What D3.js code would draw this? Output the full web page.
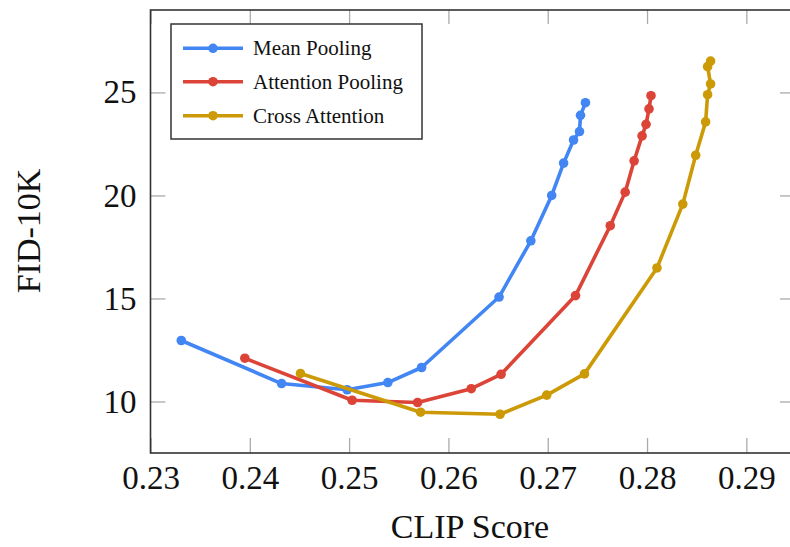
<!DOCTYPE html>
<html>
<head>
<meta charset="utf-8">
<script src="https://cdn.jsdelivr.net/npm/d3@7"></script>
<style>
  body { margin: 0; background: #fff; }
</style>
</head>
<body>
<div id="chart"></div>
<script>
// series values
var seriesNames = ['Mean Pooling', 'Attention Pooling', 'Cross Attention']
var seriesColors = ['#4286f4', '#db4437', '#cc9a06']

var meanClip = [0.2331, 0.2432, 0.2498, 0.2539, 0.2573, 0.2651, 0.2683, 0.2704, 0.2716, 0.2726, 0.2732, 0.2733, 0.2738]
var meanFid = [12.96, 10.87, 10.57, 10.92, 11.65, 15.07, 17.80, 20.00, 21.57, 22.69, 23.10, 23.89, 24.50]

var attnClip = [0.2395, 0.2503, 0.2569, 0.2623, 0.2653, 0.2728, 0.2763, 0.2778, 0.2787, 0.2795, 0.2799, 0.2802, 0.2804]
var attnFid = [12.10, 10.06, 9.95, 10.62, 11.32, 15.14, 18.53, 20.16, 21.68, 22.89, 23.45, 24.20, 24.84]

var crossClip = [0.2451, 0.2572, 0.2652, 0.2699, 0.2737, 0.2810, 0.2836, 0.2849, 0.2859, 0.2861, 0.2864, 0.2861, 0.2864]
var crossFid = [11.36, 9.48, 9.38, 10.31, 11.34, 16.48, 19.58, 21.95, 23.57, 24.89, 25.41, 26.25, 26.52]

var xTicks = [0.23, 0.24, 0.25, 0.26, 0.27, 0.28, 0.29]
var yTicks = [10, 15, 20, 25]

window.onload = function() {

  var w = 790, h = 547
  var left = 150.5, right = 795, top = 10, bottom = 453
  var font = '"Liberation Serif", "Times New Roman", serif'

  var svg = d3.select('#chart')
    .append('svg')
    .attr('width', w)
    .attr('height', h)

  var x = d3.scaleLinear().domain([0.23, 0.2949]).range([left, right])
  var y = d3.scaleLinear().domain([7.5, 29]).range([bottom, top])

  // ticks, all pointing inward
  svg.append('g')
    .attr('transform', 'translate(0,' + bottom + ')')
    .call(d3.axisBottom(x).tickValues(xTicks).tickSize(-15).tickPadding(13).tickFormat(d3.format('.2f')))
  svg.append('g')
    .attr('transform', 'translate(0,' + top + ')')
    .call(d3.axisTop(x).tickValues(xTicks).tickSize(-14).tickFormat(''))
  svg.append('g')
    .attr('transform', 'translate(' + left + ',0)')
    .call(d3.axisLeft(y).tickValues(yTicks).tickSize(-15).tickPadding(14))
  svg.append('g')
    .attr('transform', 'translate(' + right + ',0)')
    .call(d3.axisRight(y).tickValues(yTicks).tickSize(-15).tickFormat(''))

  svg.selectAll('.domain').remove()
  svg.selectAll('.tick line').attr('stroke', '#aaa').attr('stroke-width', 1.3)
  svg.selectAll('.tick text')
    .attr('font-family', font)
    .attr('font-size', 33)
    .attr('fill', '#111')

  // frame
  svg.append('rect')
    .attr('x', left)
    .attr('y', top)
    .attr('width', right - left)
    .attr('height', bottom - top)
    .attr('fill', 'none')
    .attr('stroke', '#333')
    .attr('stroke-width', 1.6)

  var series = [
    d3.zip(meanClip, meanFid),
    d3.zip(attnClip, attnFid),
    d3.zip(crossClip, crossFid)
  ]

  var line = d3.line()
    .x(function(d) { return x(d[0]) })
    .y(function(d) { return y(d[1]) })

  series.forEach(function(pts, i) {
    var g = svg.append('g')
    g.append('path')
      .attr('d', line(pts))
      .attr('fill', 'none')
      .attr('stroke', seriesColors[i])
      .attr('stroke-width', 3.6)
      .attr('stroke-linejoin', 'round')
    g.selectAll('circle')
      .data(pts)
      .enter().append('circle')
      .attr('cx', function(d) { return x(d[0]) })
      .attr('cy', function(d) { return y(d[1]) })
      .attr('r', 4.8)
      .attr('fill', seriesColors[i])
  })

  // axis titles
  svg.append('text')
    .attr('x', 470)
    .attr('y', 538)
    .attr('text-anchor', 'middle')
    .attr('font-family', font)
    .attr('font-size', 34)
    .attr('fill', '#111')
    .text('CLIP Score')

  svg.append('text')
    .attr('transform', 'translate(40,231) rotate(-90)')
    .attr('text-anchor', 'middle')
    .attr('font-family', font)
    .attr('font-size', 34)
    .attr('fill', '#111')
    .text('FID-10K')

  // legend
  var legend = svg.append('g')
  legend.append('rect')
    .attr('x', 171)
    .attr('y', 24)
    .attr('width', 251)
    .attr('height', 115)
    .attr('fill', '#fff')
    .attr('stroke', '#333')
    .attr('stroke-width', 1.5)

  var rows = [48.3, 81.7, 115.7]
  seriesNames.forEach(function(name, i) {
    var row = legend.append('g').attr('transform', 'translate(0,' + rows[i] + ')')
    row.append('line')
      .attr('x1', 183).attr('x2', 243)
      .attr('stroke', seriesColors[i])
      .attr('stroke-width', 3.6)
    row.append('circle')
      .attr('cx', 213)
      .attr('r', 4.8)
      .attr('fill', seriesColors[i])
    row.append('text')
      .attr('x', 253)
      .attr('dy', '0.33em')
      .attr('font-family', font)
      .attr('font-size', 21)
      .attr('fill', '#111')
      .text(name)
  })

}
</script>
</body>
</html>
